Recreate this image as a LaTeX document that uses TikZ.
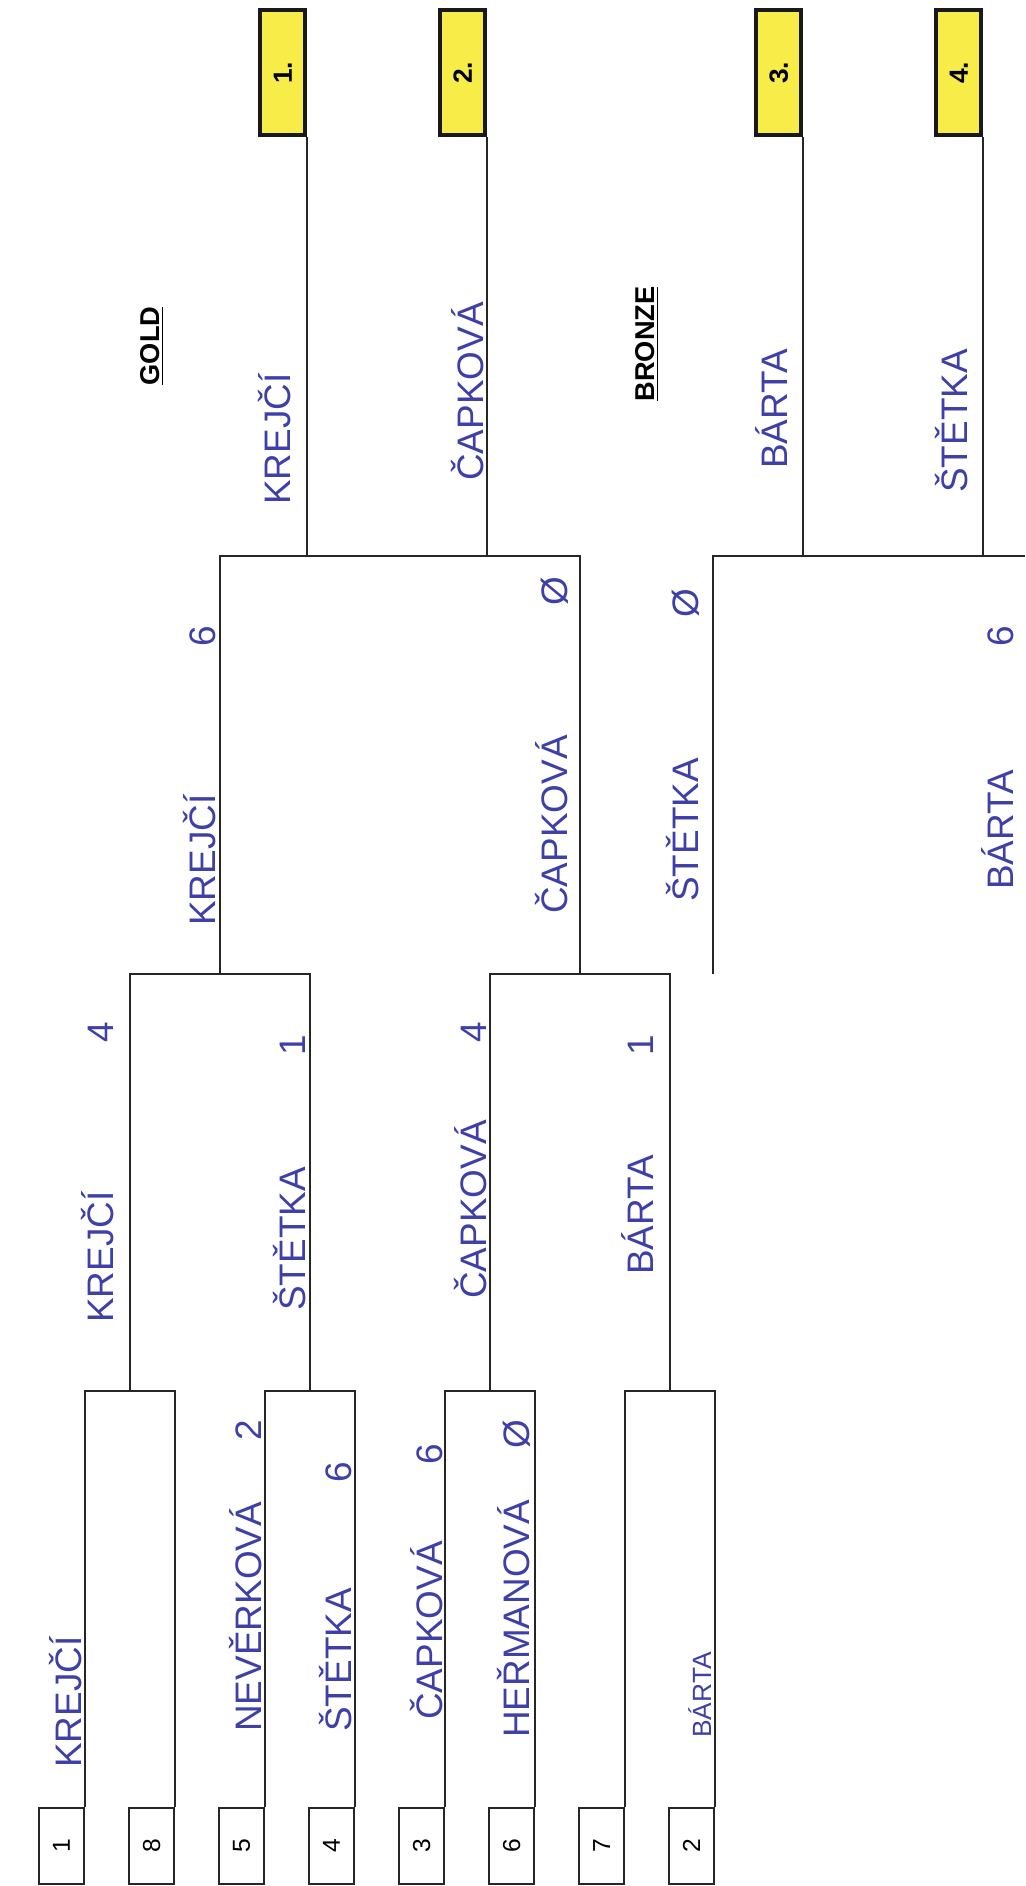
\documentclass[tikz,border=0pt]{standalone}
\usepackage{fontspec}
\usepackage{graphicx}
\setmainfont{Liberation Sans}
\definecolor{tinta}{RGB}{62,64,168}
\definecolor{amarillo}{RGB}{247,236,72}
\newlength{\px}
\setlength{\px}{0.02cm}
\newcommand{\res}[3]{\makebox[#3\px][l]{#1\hfill#2}}

\begin{document}
\begin{tikzpicture}[
        x=0.02cm, y=-0.02cm,
        linea/.style={draw=black!85, line width=1.1pt},
        semilla/.style={rectangle, draw=black!85, line width=1.1pt, minimum width=45\px, minimum height=76\px, inner sep=0pt, anchor=north east, font=\fontsize{14}{14}\selectfont},
        puesto/.style={rectangle, draw=black!90, fill=amarillo, line width=2pt, minimum width=45\px, minimum height=125\px, inner sep=0pt, anchor=south east, font=\bfseries\fontsize{15}{15}\selectfont},
        titulo/.style={rotate=90, inner sep=1pt, font=\bfseries\fontsize{15.5}{16}\selectfont},
        nombre/.style={rotate=90, anchor=south west, inner sep=0pt, text=tinta, font=\fontsize{21}{21}\selectfont}
    ]
        \useasboundingbox (0,0) rectangle (1025,1886);

        \foreach \n [count=\i from 0] in {1,8,5,4,3,6,7,2}
            \node[semilla] (s\n) at ({85+90*\i},1807) {\rotatebox{90}{\n}};

        \node[puesto] (p1) at (307,137) {\rotatebox{90}{1.}};
        \node[puesto] (p2) at (487,137) {\rotatebox{90}{2.}};
        \node[puesto] (p3) at (803,137) {\rotatebox{90}{3.}};
        \node[puesto] (p4) at (983,137) {\rotatebox{90}{4.}};

        \coordinate (a1) at (130,1391);
        \coordinate (a2) at (310,1391);
        \coordinate (a3) at (490,1391);
        \coordinate (a4) at (670,1391);
        \coordinate (b1) at (220,974);
        \coordinate (b2) at (580,974);
        \coordinate (fin) at (400,556);
        \coordinate (bro) at (713,974);
        \coordinate (borde) at (1025,556);

        \draw[linea] (s1.north east) |- (a1) -| (s8.north east);
        \draw[linea] (s5.north east) |- (a2) -| (s4.north east);
        \draw[linea] (s3.north east) |- (a3) -| (s6.north east);
        \draw[linea] (s7.north east) |- (a4) -| (s2.north east);
        \draw[linea] (a1) |- (b1) -| (a2);
        \draw[linea] (a3) |- (b2) -| (a4);
        \draw[linea] (b1) |- (fin) -| (b2);
        \draw[linea] (p1.south east) -- (p1.south east |- fin);
        \draw[linea] (p2.south east) -- (p2.south east |- fin);
        \draw[linea] (bro) |- (borde);
        \draw[linea] (p3.south east) -- (p3.south east |- borde);
        \draw[linea] (p4.south east) -- (p4.south east |- borde);

        \node[titulo] (oro) at (152,346) {\underline{GOLD}};
        \node[titulo] (bronce) at (647,344) {\underline{BRONZE}};

        \node[nombre] (r1a) at (82,1768) {KREJČÍ};
        \node[nombre] (r1c) at (262,1732) {\res{NEVĚRKOVÁ}{2}{312}};
        \node[nombre] (r1d) at (352,1732) {\res{ŠTĚTKA}{6}{270}};
        \node[nombre] (r1e) at (443,1720) {\res{ČAPKOVÁ}{6}{276}};
        \node[nombre] (r1f) at (531,1738) {\res{HEŘMANOVÁ}{Ø}{318}};
        \node[nombre, font=\fontsize{15}{15}\selectfont] (r1h) at (712,1738) {BÁRTA};

        \node[nombre] (r2a) at (114,1323) {\res{KREJČÍ}{4}{301}};
        \node[nombre] (r2b) at (306,1311) {\res{ŠTĚTKA}{1}{276}};
        \node[nombre] (r2c) at (487,1299) {\res{ČAPKOVÁ}{4}{277}};
        \node[nombre] (r2d) at (654,1275) {\res{BÁRTA}{1}{240}};

        \node[nombre] (r3a) at (216,926) {\res{KREJČÍ}{6}{300}};
        \node[nombre] (r3b) at (569,914) {\res{ČAPKOVÁ}{Ø}{337}};
        \node[nombre] (r3c) at (700,902) {\res{ŠTĚTKA}{Ø}{313}};
        \node[nombre] (r3d) at (1014,890) {\res{BÁRTA}{6}{264}};

        \node[nombre] (f1) at (291,505) {KREJČÍ};
        \node[nombre] (f2) at (484,481) {ČAPKOVÁ};
        \node[nombre] (f3) at (788,469) {BÁRTA};
        \node[nombre] (f4) at (968,493) {ŠTĚTKA};
    \end{tikzpicture}
\end{document}
